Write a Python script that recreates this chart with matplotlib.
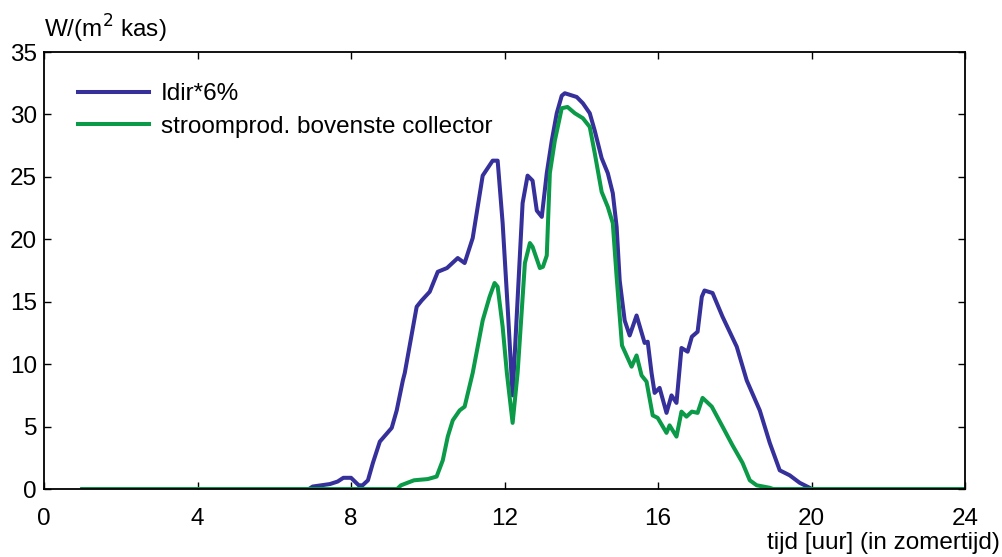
import matplotlib
matplotlib.use("Agg")
import matplotlib.pyplot as plt

plt.rcParams['font.family'] = ['Liberation Sans', 'DejaVu Sans']

# Idir*6%
t_idir = [1.0, 6.9, 7.0, 7.45, 7.65, 7.8, 8.0, 8.1, 8.2, 8.3, 8.44, 8.57, 8.75, 9.06,
          9.19, 9.35, 9.4, 9.71, 9.84, 10.05, 10.26, 10.5, 10.78, 10.96, 11.17, 11.43,
          11.69, 11.82, 11.95, 12.08, 12.21, 12.47, 12.6, 12.73, 12.84, 12.97, 13.1,
          13.23, 13.36, 13.49, 13.57, 13.88, 14.04, 14.22, 14.35, 14.53, 14.69, 14.82,
          14.92, 15.0, 15.13, 15.26, 15.44, 15.65, 15.73, 15.83, 15.91, 16.04, 16.22,
          16.35, 16.48, 16.61, 16.77, 16.88, 17.03, 17.14, 17.21, 17.42, 17.68, 18.05,
          18.31, 18.65, 18.91, 19.17, 19.43, 19.69, 19.95, 20.0, 24.0]
idir = [0, 0, 0.2, 0.4, 0.6, 0.9, 0.9, 0.6, 0.3, 0.3, 0.7, 2.1, 3.8, 4.9,
        6.3, 8.7, 9.3, 14.6, 15.1, 15.8, 17.4, 17.7, 18.5, 18.1, 20.1, 25.1,
        26.3, 26.3, 21.3, 14.6, 7.5, 22.9, 25.1, 24.7, 22.3, 21.8, 25.3,
        27.9, 30.1, 31.5, 31.7, 31.4, 30.9, 30.1, 28.7, 26.5, 25.3, 23.7,
        21.0, 16.7, 13.5, 12.3, 13.9, 11.7, 11.8, 9.3, 7.7, 8.1, 6.1,
        7.5, 6.9, 11.3, 11.0, 12.2, 12.6, 15.4, 15.9, 15.7, 13.8, 11.4,
        8.7, 6.3, 3.7, 1.5, 1.1, 0.5, 0.1, 0, 0]

# stroomprod. bovenste collector
t_prod = [1.0, 9.2, 9.3, 9.64, 10.0, 10.23, 10.39, 10.52, 10.65, 10.83, 10.96, 11.17,
          11.43, 11.61, 11.74, 11.82, 11.95, 12.06, 12.21, 12.34, 12.53, 12.66, 12.73,
          12.92, 13.0, 13.1, 13.18, 13.31, 13.49, 13.64, 13.83, 14.04, 14.22, 14.35,
          14.53, 14.69, 14.82, 14.92, 15.06, 15.31, 15.44, 15.57, 15.7, 15.86, 15.99,
          16.22, 16.3, 16.48, 16.61, 16.74, 16.88, 17.03, 17.16, 17.4, 17.68, 17.94,
          18.2, 18.39, 18.57, 18.91, 19.0, 24.0]
prod = [0, 0, 0.3, 0.7, 0.8, 1.0, 2.3, 4.2, 5.5, 6.3, 6.6, 9.3,
        13.5, 15.4, 16.5, 16.2, 13.0, 9.3, 5.3, 9.3, 18.1, 19.7, 19.4,
        17.7, 17.8, 18.7, 25.3, 27.9, 30.5, 30.6, 30.1, 29.7, 29.0, 26.9,
        23.8, 22.6, 21.3, 17.0, 11.5, 9.8, 10.7, 9.1, 8.6, 5.9, 5.7,
        4.5, 5.1, 4.2, 6.2, 5.8, 6.2, 6.1, 7.3, 6.6, 5.0, 3.5,
        2.1, 0.7, 0.3, 0.1, 0, 0]

x_ticks = [0, 4, 8, 12, 16, 20, 24]
y_ticks = [0, 5, 10, 15, 20, 25, 30, 35]

fs = 17.5

fig = plt.figure(figsize=(10.03, 5.57), dpi=100)
ax = fig.add_axes([0.0439, 0.122, 0.9183, 0.7846])

ax.plot(t_idir, idir, color='#35309a', lw=2.9, label='Idir*6%')
ax.plot(t_prod, prod, color='#0a9a48', lw=2.9, label='stroomprod. bovenste collector')

ax.set_xlim(0, 24)
ax.set_ylim(0, 35)
ax.set_xticks(x_ticks)
ax.set_yticks(y_ticks)
ax.tick_params(direction='in', top=True, right=True, labelsize=fs, length=5, width=1)
ax.tick_params(axis='x', pad=14)
ax.tick_params(axis='y', pad=5)
for s in ax.spines.values():
    s.set_linewidth(1.3)

fig.text(0.0439, 0.92, 'W/(m$^2$ kas)', fontsize=fs, ha='left', va='bottom')
fig.text(0.997, 0.005, 'tijd [uur] (in zomertijd)', fontsize=fs, ha='right', va='bottom')

ax.legend(loc='upper left', frameon=False, fontsize=fs, handlelength=2.9,
          handletextpad=0.5, labelspacing=0.42, borderaxespad=1.0,
          bbox_to_anchor=(0.0, 1.006))

fig.savefig('out.png', dpi=100)
